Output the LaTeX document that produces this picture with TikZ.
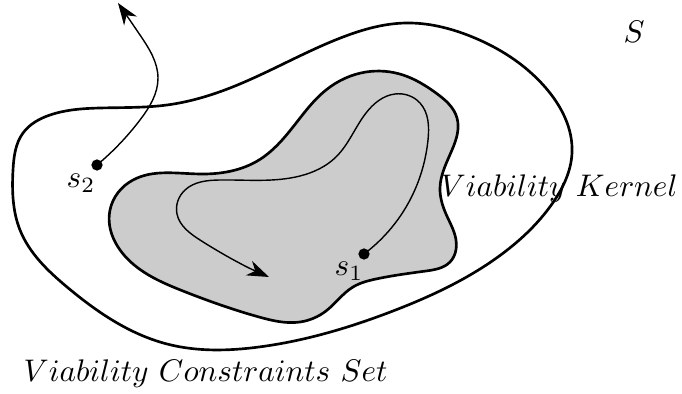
\documentclass[tikz,border=0pt]{standalone}
\usepackage{amsmath}
\usetikzlibrary{arrows.meta, hobby}

\begin{document}
\begin{tikzpicture}[x=0.32pt, y=-0.32pt, >={Stealth[length=7pt,width=5pt,inset=2.2pt]},
    use Hobby shortcut,
    region/.style={line width=0.85pt, line join=round},
    traj/.style={line width=0.45pt},
    state/.style={circle, fill=black, inner sep=0pt, minimum size=3.6pt}]
  \useasboundingbox (0,0) rectangle (682,394);
  % --- Viability constraints set ---
  \draw[region, closed=true] (13,170) .. (23,133) .. (50,115) .. (100,108)
    .. (167,105) .. (230,88) .. (343,37) .. (406,23) .. (470,36) .. (545,87)
    .. (572,153) .. (552,204) .. (502,254) .. (393,311) .. (259,347)
    .. (167,344) .. (67,287) .. (20,230);
  % --- Viability kernel ---
  \draw[region, fill=gray!40, closed=true] (110,210) .. (133,180) .. (200,174)
    .. (259,160) .. (293,127) .. (326,90) .. (366,72) .. (403,75) .. (436,93)
    .. (457,118) .. (452,150) .. (440,188) .. (446,214) .. (456,240)
    .. (450,262) .. (426,271) .. (376,279) .. (353,287) .. (326,311)
    .. (300,322) .. (259,317) .. (183,291) .. (133,264);
  % --- states ---
  \node[state] (s1) at (364,254) {};
  \node[state] (s2) at (97,165) {};
  \coordinate (out) at (118,3);
  \coordinate (in) at (269,277);
  % --- trajectories ---
  \draw[traj, ->] (s1.center) .. (413,194) .. (428,140) .. (420,103)
    .. (395,94) .. (366,113) .. (336,157) .. (300,176) .. (220,180)
    .. (185,190) .. (177,214) .. (200,240) .. (in);
  \draw[traj, ->] (s2.center) .. (140,120) .. (158,78) .. (140,35) .. (out);
  % --- labels ---
  \node[anchor=base west, inner sep=0pt] (lbls1) at (334,276) {$s_1$};
  \node[anchor=base west, inner sep=0pt] (lbls2) at (66,188) {$s_2$};
  \node[anchor=base west, inner sep=0pt] (lblS) at (623,43) {$S$};
  \node[anchor=base west, inner sep=0pt] (kernel) at (440,197) {$Viability\ Kernel$};
  \node[anchor=base west, inner sep=0pt] (cset) at (23,382) {$Viability\ Constraints\ Set$};
\end{tikzpicture}
\end{document}
